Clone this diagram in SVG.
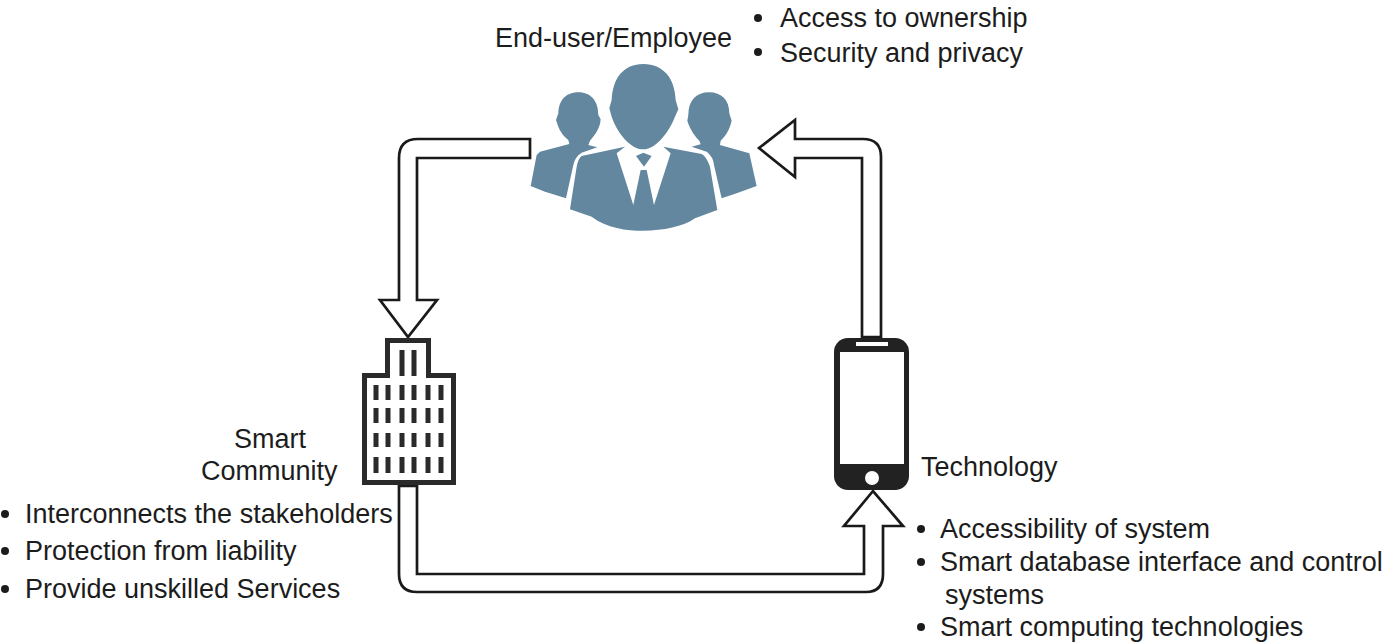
<svg xmlns="http://www.w3.org/2000/svg" width="1384" height="642" viewBox="0 0 1384 642">
<style>
text{font-family:"Liberation Sans",Arial,sans-serif;font-size:27px;fill:#1c1c1c}
.arrow{fill:#fff;stroke:#1a1a1a;stroke-width:2.700;stroke-linejoin:miter}
.dot{fill:#1c1c1c}
.person{fill:#62879f}
.win{fill:#2a2a2a}
</style>
<rect width="1384" height="642" fill="#fff"/>
<g id="connectors">
<path class="arrow" d="M530 139H418Q399 139 399 158V300H380L408 337L437 300H417V158H530Z"/>
<path class="arrow" d="M881 337V157Q881 139 863 139H795V120L759 148L795 177V158H862V337Z"/>
<path class="arrow" d="M399 486V574Q399 592 417 592H866Q883 592 883 574V526H903L873 491L844 526H864V574H417V486Z"/>
</g>
<g id="end-user">
<g transform="translate(510 50) scale(.3333)">
<path class="person" d="M205 127C165 127 145 155 145 190L138 210L145 230C155 255 170 265 175 270L178 282L90 305L80 315L62 408L105 425L168 445L190 345Q195 320 215 308L262 292L235 285L240 272C255 255 265 240 270 222L272 208L265 195C265 155 245 127 205 127Z"/>
<path class="person" d="M597 127C560 127 535 150 535 195L532 212C540 240 560 265 568 272L572 283L545 290L590 305Q610 320 612 345L635 445L680 430L740 408L718 310L630 285L632 272C650 255 660 235 665 212L658 190C658 150 635 127 597 127Z"/>
<path class="person" d="M400 42C340 42 308 85 305 150L298 175L305 200C320 245 360 298 400 298C440 298 480 240 495 200L505 178L497 150C495 85 460 42 400 42Z"/>
<path class="person" d="M345 290L215 318Q205 325 200 350L180 478L245 500C290 535 350 542 400 542C460 542 520 530 555 505L622 480L600 350Q590 320 575 312L460 290L482 310L432 465L410 360H392L370 465L320 310Z"/>
<path class="person" d="M378 318L400 308L425 318L402 350Z"/>
</g>
<text x="495" y="47">End-user/Employee</text>
<circle class="dot" cx="758" cy="18" r="4"/>
<text x="780" y="27">Access to ownership</text>
<circle class="dot" cx="758" cy="52" r="4"/>
<text x="780" y="62">Security and privacy</text>
</g>
<g id="smart-community">
<path d="M387.500 375.500V340.500H428.500V375.500H453.500V482.500H364.500V375.500Z" fill="#fff" stroke="#2a2a2a" stroke-width="5"/>
<g class="win">
<rect x="399.500" y="350" width="5" height="26"/><rect x="411.500" y="350" width="5" height="26"/>
<rect x="373.500" y="385" width="5" height="15"/><rect x="385.500" y="385" width="5" height="15"/><rect x="399.500" y="385" width="5" height="15"/><rect x="411.500" y="385" width="5" height="15"/><rect x="425.500" y="385" width="5" height="15"/><rect x="438.500" y="385" width="5" height="15"/>
<rect x="373.500" y="408" width="5" height="15"/><rect x="385.500" y="408" width="5" height="15"/><rect x="399.500" y="408" width="5" height="15"/><rect x="411.500" y="408" width="5" height="15"/><rect x="425.500" y="408" width="5" height="15"/><rect x="438.500" y="408" width="5" height="15"/>
<rect x="373.500" y="433" width="5" height="14"/><rect x="385.500" y="433" width="5" height="14"/><rect x="399.500" y="433" width="5" height="14"/><rect x="411.500" y="433" width="5" height="14"/><rect x="425.500" y="433" width="5" height="14"/><rect x="438.500" y="433" width="5" height="14"/>
<rect x="373.500" y="457" width="5" height="16"/><rect x="385.500" y="457" width="5" height="16"/><rect x="399.500" y="457" width="5" height="16"/><rect x="411.500" y="457" width="5" height="16"/><rect x="425.500" y="457" width="5" height="16"/><rect x="438.500" y="457" width="5" height="16"/>
</g>
<text x="234" y="448">Smart</text>
<text x="201" y="480">Community</text>
<circle class="dot" cx="5" cy="514" r="4"/>
<text x="25" y="523">Interconnects the stakeholders</text>
<circle class="dot" cx="5" cy="551" r="4"/>
<text x="25" y="560">Protection from liability</text>
<circle class="dot" cx="5" cy="589" r="4"/>
<text x="25" y="598">Provide unskilled Services</text>
</g>
<g id="technology">
<rect x="834" y="338" width="75" height="152" rx="14" fill="#222"/>
<rect x="840" y="352" width="64" height="112" fill="#fff"/>
<rect x="856" y="342" width="32" height="4" fill="#fff"/>
<circle cx="872" cy="478" r="7" fill="#fff"/>
<text x="921" y="476">Technology</text>
<circle class="dot" cx="921" cy="529" r="4"/>
<text x="940" y="538">Accessibility of system</text>
<circle class="dot" cx="921" cy="562" r="4"/>
<text x="940" y="571">Smart database interface and control</text>
<text x="945" y="604">systems</text>
<circle class="dot" cx="921" cy="627" r="4"/>
<text x="940" y="636">Smart computing technologies</text>
</g>
</svg>
